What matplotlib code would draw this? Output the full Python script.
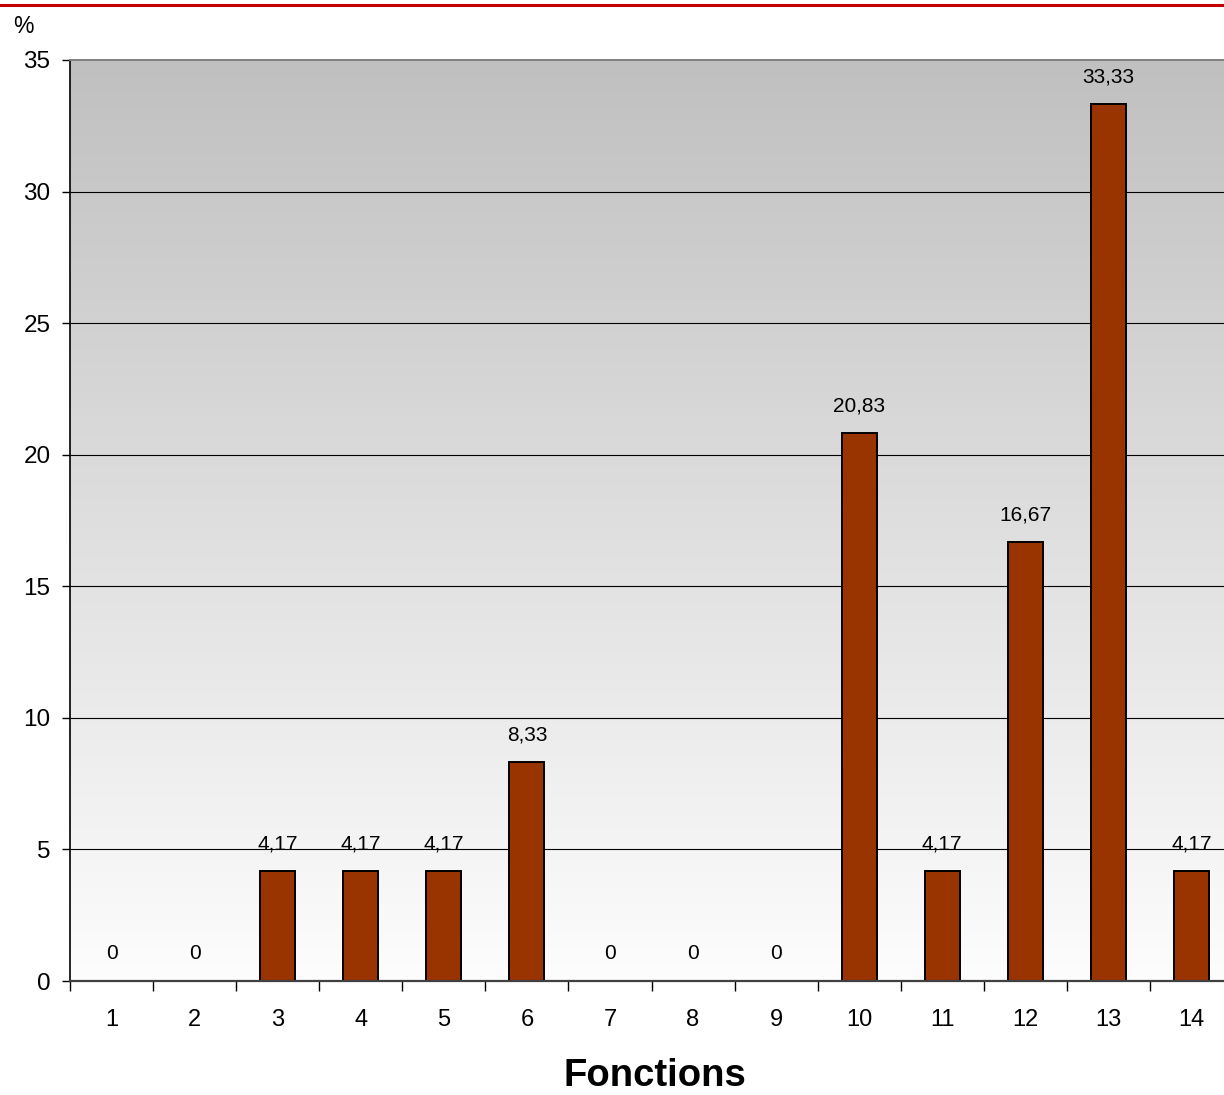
import numpy as np
import matplotlib
matplotlib.use("Agg")
import matplotlib.pyplot as plt
from matplotlib.lines import Line2D

plt.rcParams['font.family'] = ['Liberation Sans', 'DejaVu Sans']

# data
categories = ['1', '2', '3', '4', '5', '6', '7', '8', '9', '10', '11', '12', '13', '14']
values = [0, 0, 4.17, 4.17, 4.17, 8.33, 0, 0, 0, 20.83, 4.17, 16.67, 33.33, 4.17]
labels = ['0', '0', '4,17', '4,17', '4,17', '8,33', '0', '0', '0',
          '20,83', '4,17', '16,67', '33,33', '4,17']

W, H = 1224, 1095
fig = plt.figure(figsize=(W / 100, H / 100), dpi=100)

# axes spill over the right edge, like the cropped original
left, right, top, bottom = 70, 1233, 60, 981
ax = fig.add_axes([left / W, 1 - bottom / H, (right - left) / W, (bottom - top) / H])

x = np.arange(len(categories))
ax.set_xlim(-0.5, len(categories) - 0.5)
ax.set_ylim(0, 35)

# gray to white gradient background
grad = np.linspace(0, 1, 256).reshape(-1, 1)
cmap = matplotlib.colors.LinearSegmentedColormap.from_list('bg', ['#fdfdfd', '#c0c0c0'])
ax.imshow(grad, extent=[-0.5, len(categories) - 0.5, 0, 35], origin='lower',
          aspect='auto', cmap=cmap, zorder=0)

# grid
for yv in range(5, 35, 5):
    ax.axhline(yv, color='black', lw=0.8, zorder=1)

edge_w = [1.4 if v > 0 else 0 for v in values]
ax.bar(x, values, width=0.42, color='#993300', edgecolor='black', linewidth=edge_w, zorder=3)

for xi, v, lab in zip(x, values, labels):
    ax.annotate(lab, (xi, v), xytext=(0, 19.5), textcoords='offset points',
                ha='center', va='center', fontsize=15, color='black', zorder=4)

# axes styling
ax.spines['top'].set_color('#808080')
ax.spines['top'].set_linewidth(1.4)
ax.spines['right'].set_visible(False)
ax.spines['left'].set_color('black')
ax.spines['left'].set_linewidth(1.2)
ax.spines['bottom'].set_color('#404040')
ax.spines['bottom'].set_linewidth(1.6)
for s in ax.spines.values():
    s.set_zorder(5)

ax.set_yticks(range(0, 36, 5))
ax.tick_params(axis='y', length=6, width=1, labelsize=17.5, pad=8, direction='out')

ax.set_xticks(x)
ax.set_xticklabels(categories)
ax.tick_params(axis='x', which='major', length=0, labelsize=17, pad=20)
ax.set_xticks(np.arange(-0.5, len(categories), 1), minor=True)
ax.tick_params(axis='x', which='minor', length=7, width=1, direction='out')

fig.text(655 / W, 1 - 1086 / H, 'Fonctions', ha='center', va='baseline',
         fontsize=27.5, fontweight='bold')
fig.text(23 / W, 1 - 33 / H, '%', ha='center', va='baseline', fontsize=16.5)

# red rule at top
fig.add_artist(Line2D([0, 1], [1 - 5 / H, 1 - 5 / H], color='#c00000', lw=2.2,
                      transform=fig.transFigure))

fig.savefig('out.png', dpi=100)
